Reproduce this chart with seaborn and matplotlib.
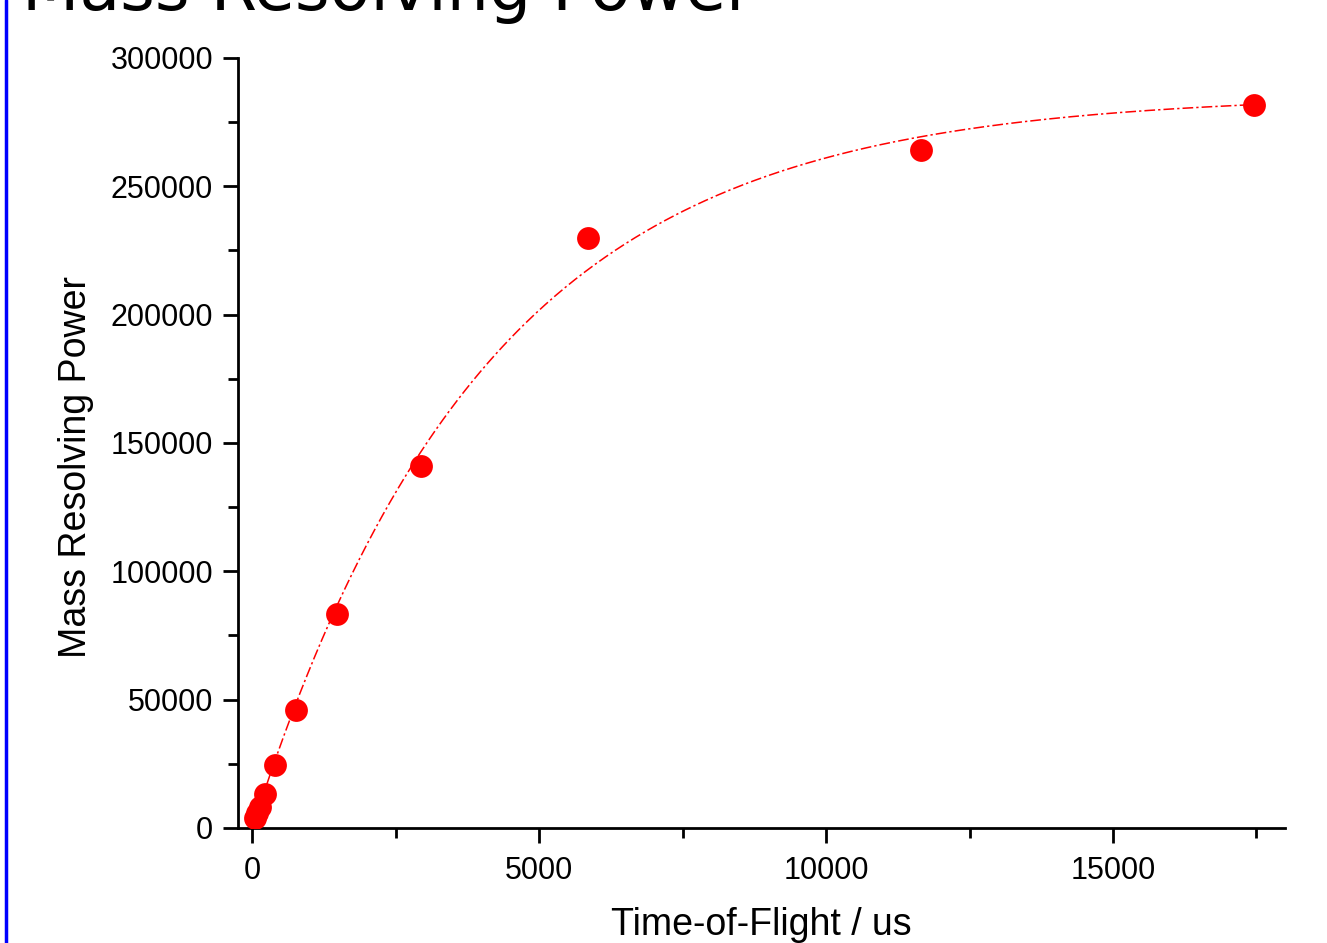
import numpy as np
import pandas as pd
import matplotlib
matplotlib.use("Agg")
import matplotlib.pyplot as plt
from matplotlib.lines import Line2D
from matplotlib.ticker import MultipleLocator
import seaborn as sns

# Measured time-of-flight (us) and mass resolving power
tof_us = [40, 80, 130, 220, 390, 760, 1480, 2930, 5850, 11650, 17450]
resolving_power = [3900, 5800, 8200, 13200, 24500, 46000, 83400, 141000, 229900, 264200, 281700]

title_text = "Mass Resolving Power"
x_label = "Time-of-Flight / us"
y_label = "Mass Resolving Power"
x_ticks = [0, 5000, 10000, 15000]
y_ticks = [0, 50000, 100000, 150000, 200000, 250000, 300000]

df = pd.DataFrame({"tof": tof_us, "R": resolving_power})

# Saturating exponential fit R = A * (1 - exp(-t / tau)), least squares
x = np.asarray(tof_us, float)
y = np.asarray(resolving_power, float)
best = None
for tau in np.linspace(500, 20000, 4000):
    basis = 1.0 - np.exp(-x / tau)
    amp = basis @ y / (basis @ basis)
    err = np.sum((y - amp * basis) ** 2)
    if best is None or err < best[0]:
        best = (err, amp, tau)
_, amp_fit, tau_fit = best
fit_x = np.linspace(x.min(), x.max(), 400)
fit_df = pd.DataFrame({"tof": fit_x, "R": amp_fit * (1.0 - np.exp(-fit_x / tau_fit))})

sns.set_style("ticks")
plt.rcParams["font.family"] = ["Liberation Sans", "DejaVu Sans"]
plt.rcParams["text.color"] = "black"
plt.rcParams["axes.labelcolor"] = "black"

fig = plt.figure(figsize=(13.27, 9.43), dpi=100)
ax = fig.add_axes([0.1794, 0.1220, 0.9684 - 0.1794, 0.9385 - 0.1220])

sns.lineplot(data=fit_df, x="tof", y="R", ax=ax, color="red", lw=1.1,
             linestyle=(0, (7, 2, 1.5, 2)), zorder=2)
sns.scatterplot(data=df, x="tof", y="R", ax=ax, color="red", s=270,
                edgecolor="red", linewidth=0, zorder=3)

ax.set_xlim(-250, 18000)
ax.set_ylim(0, 300000)
ax.set_xticks(x_ticks)
ax.set_yticks(y_ticks)
ax.xaxis.set_minor_locator(MultipleLocator(2500))
ax.yaxis.set_minor_locator(MultipleLocator(25000))
ax.set_xticklabels([str(v) for v in x_ticks])
ax.set_yticklabels([str(v) for v in y_ticks])

for side in ("top", "right"):
    ax.spines[side].set_visible(False)
for side in ("left", "bottom"):
    ax.spines[side].set_linewidth(2.0)
    ax.spines[side].set_color("black")

ax.tick_params(axis="both", which="major", direction="out", length=11,
               width=2.0, labelsize=22, colors="black")
ax.tick_params(axis="both", which="minor", direction="out", length=7,
               width=2.0, colors="black")
ax.tick_params(axis="x", which="major", pad=9)
ax.tick_params(axis="y", which="major", pad=7)

ax.set_xlabel(x_label, fontsize=27, color="black")
ax.set_ylabel(y_label, fontsize=27, color="black")
ax.xaxis.set_label_coords(0.5, -0.103)
ax.yaxis.set_label_coords(-0.138, 0.469)

fig.text(22 / 1327, 1 - 10 / 943, title_text, fontsize=48, color="black",
         family="DejaVu Sans", ha="left", va="baseline")

fig.add_artist(Line2D([6 / 1327, 6 / 1327], [0, 1], color="blue", lw=2.5,
                      transform=fig.transFigure))

fig.savefig("out.png", dpi=100)
